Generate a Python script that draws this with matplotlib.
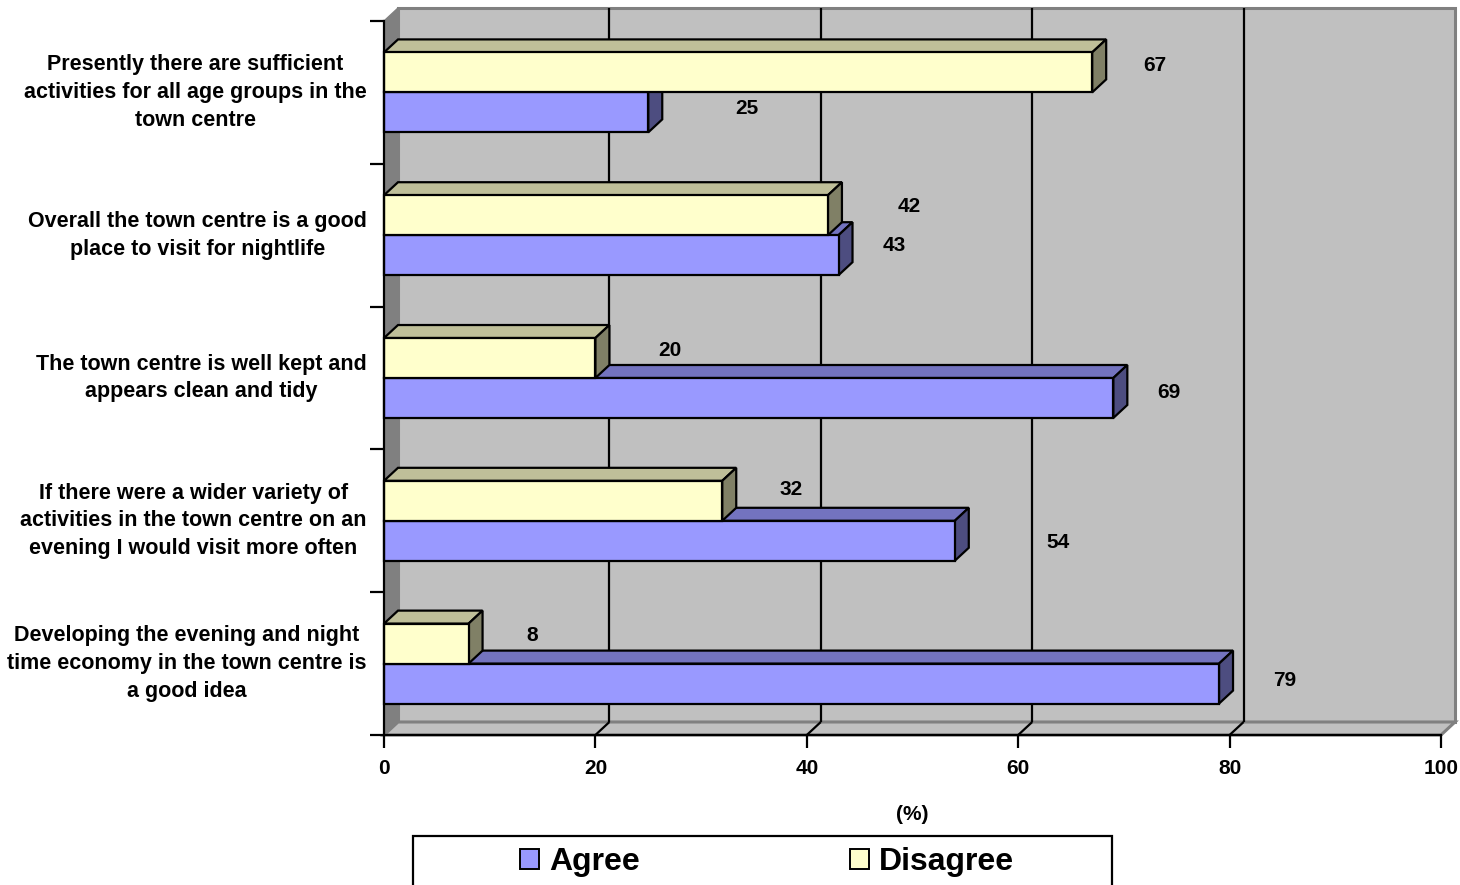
import matplotlib
matplotlib.use("Agg")
import matplotlib.pyplot as plt
from matplotlib.patches import Polygon, Rectangle, Patch

categories = [
    "Presently there are sufficient\nactivities for all age groups in the\ntown centre",
    "Overall the town centre is a good\nplace to visit for nightlife",
    "The town centre is well kept and\nappears clean and tidy",
    "If there were a wider variety of\nactivities in the town centre on an\nevening I would visit more often",
    "Developing the evening and night\ntime economy in the town centre is\na good idea",
]
agree = [25, 43, 69, 54, 79]
disagree = [67, 42, 20, 32, 8]
x_ticks = [0, 20, 40, 60, 80, 100]

# where the value labels sit relative to each bar end (x units / category units)
agree_lab_dx = [9.3, 5.3, 5.3, 9.8, 6.2]
agree_lab_dy = [-0.03, -0.07, -0.04, 0.01, -0.02]
disagree_lab_dx = [5.9, 7.7, 7.0, 6.5, 6.0]
disagree_lab_dy = [-0.05, -0.06, -0.05, -0.08, -0.06]

AGREE = "#9999ff"
DISAGREE = "#ffffcc"
WALL = "#c0c0c0"
SIDEWALL = "#808080"

plt.rcParams["font.family"] = ["Liberation Sans", "DejaVu Sans"]
plt.rcParams["font.weight"] = "bold"

W, H = 1460, 885
fig = plt.figure(figsize=(W / 100, H / 100), dpi=100)
ax = fig.add_axes([384 / W, 1 - 735 / H, (1441 - 384) / W, (735 - 21) / H])
ax.set_xlim(0, 100)
ax.set_ylim(4.5, -0.5)
ax.patch.set_visible(False)

# depth of the pseudo-3d box, in data units
DX = 14 / 10.57
DY = 13 / 142.8
bar_h = 0.28


def shade(hexcol, f):
    r, g, b = matplotlib.colors.to_rgb(hexcol)
    return (r * f, g * f, b * f)


def add_poly(pts, fc, ec, lw, z):
    ax.add_patch(Polygon(pts, closed=True, facecolor=fc, edgecolor=ec,
                         linewidth=lw, zorder=z, clip_on=False, joinstyle="miter"))


# walls and floor
y_top, y_bot = -0.5, 4.5
add_poly([(DX, y_top - DY), (100 + DX, y_top - DY), (100 + DX, y_bot - DY), (DX, y_bot - DY)],
         WALL, SIDEWALL, 2.2, 0.5)
add_poly([(0, y_top), (DX, y_top - DY), (DX, y_bot - DY), (0, y_bot)], SIDEWALL, SIDEWALL, 1, 0.6)
add_poly([(0, y_bot), (100, y_bot), (100 + DX, y_bot - DY), (DX, y_bot - DY)], WALL, SIDEWALL, 2.2, 0.6)

# gridlines on the back wall and across the floor
for v in x_ticks[1:-1]:
    ax.plot([v + DX, v + DX], [y_top - DY, y_bot - DY], color="black", lw=1.6, zorder=0.8,
            clip_on=False, solid_capstyle="butt")
    ax.plot([v, v + DX], [y_bot, y_bot - DY], color="black", lw=1.6, zorder=0.8,
            clip_on=False, solid_capstyle="butt")


def box(v, yt, yb, col, z):
    add_poly([(0, yt), (v, yt), (v + DX, yt - DY), (DX, yt - DY)], shade(col, 0.75), "black", 1.6, z)
    add_poly([(v, yt), (v + DX, yt - DY), (v + DX, yb - DY), (v, yb)], shade(col, 0.5), "black", 1.6, z)
    add_poly([(0, yt), (v, yt), (v, yb), (0, yb)], col, "black", 1.6, z)


for i in range(len(categories)):
    box(agree[i], i, i + bar_h, AGREE, 3)
    box(disagree[i], i - bar_h, i, DISAGREE, 4)
    ax.text(agree[i] + agree_lab_dx[i], i + bar_h / 2 + agree_lab_dy[i], str(agree[i]),
            ha="center", va="center", fontsize=15, fontweight="bold", zorder=6)
    ax.text(disagree[i] + disagree_lab_dx[i], i - bar_h / 2 + disagree_lab_dy[i], str(disagree[i]),
            ha="center", va="center", fontsize=15, fontweight="bold", zorder=6)

# axes
for s in ["top", "right"]:
    ax.spines[s].set_visible(False)
for s in ["left", "bottom"]:
    ax.spines[s].set_linewidth(1.6)
    ax.spines[s].set_zorder(5)

ax.set_xticks(x_ticks)
ax.set_xticklabels([str(t) for t in x_ticks], fontsize=15, fontweight="bold")
ax.tick_params(axis="x", direction="out", length=9, width=1.6, pad=8)

ax.set_yticks([i - 0.5 for i in range(len(categories) + 1)])
ax.set_yticklabels([])
ax.set_yticks(range(len(categories)), minor=True)
ax.set_yticklabels(categories, minor=True, fontsize=15.5, fontweight="bold", linespacing=1.42)
ax.tick_params(axis="y", which="major", direction="out", length=10, width=1.6)
ax.tick_params(axis="y", which="minor", length=0, pad=12.5)
for lab in ax.get_yticklabels(minor=True):
    lab.set_multialignment("center")
    lab.set_verticalalignment("center")

ax.set_xlabel("(%)", fontsize=15, fontweight="bold", labelpad=20)

# legend inside a box that runs off the bottom edge
fig.patches.append(Rectangle((413 / W, -0.02), (1112 - 413) / W, 0.02 + (885 - 836) / H,
                             transform=fig.transFigure, facecolor="white", edgecolor="black",
                             linewidth=1.6, zorder=1))
handles = [Patch(facecolor=AGREE, edgecolor="black", linewidth=1.4, label="Agree"),
           Patch(facecolor=DISAGREE, edgecolor="black", linewidth=1.4, label="Disagree")]
fig.legend(handles=handles, ncol=2, loc="center left", bbox_to_anchor=(520 / W, 1 - 862 / H),
           frameon=False, prop={"size": 23, "weight": "bold"}, handlelength=0.6, handleheight=0.6,
           handletextpad=0.3, columnspacing=6.6, borderpad=0, borderaxespad=0)

fig.savefig("out.png", dpi=100)
